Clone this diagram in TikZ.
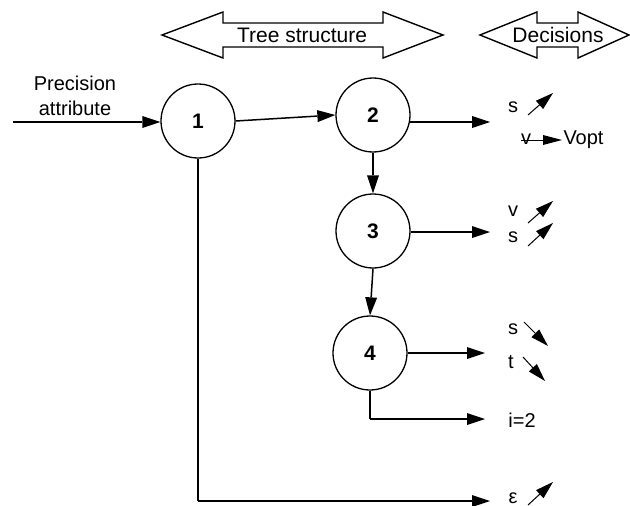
\documentclass[tikz,border=0pt]{standalone}
\usepackage{fontspec}
\setmainfont{Liberation Sans}
\usetikzlibrary{calc}
% arrow with a filled head built from plain path points: #1 from, #2 tip, #3 head length, #4 half width
\newcommand\myarrow[4]{%
  \path (#2) coordinate (tipA) ($(#2)!#3!(#1)$) coordinate (baseA);
  \draw (#1) -- (baseA);
  \fill (tipA) -- ($(baseA)!#4!90:(tipA)$) -- ($(baseA)!#4!-90:(tipA)$) -- cycle;}
\begin{document}
\begin{tikzpicture}[x=1pt,y=1pt, line width=1.5pt,
 circ/.style={circle,draw,line width=1.3pt,minimum size=74pt,inner sep=0pt,font=\fontsize{21}{22}\selectfont\bfseries},
 lbl/.style={inner sep=0pt,font=\fontsize{20}{25}\selectfont},
 ttl/.style={inner sep=0pt,font=\fontsize{21}{25}\selectfont},
 blk/.style={draw,line width=1.4pt,fill=white}]
\useasboundingbox (0,0) rectangle (630,-506);
% block arrows
\draw[blk] (162,-35) -- (223,-12) -- (223,-23) -- (383,-23) -- (383,-12) -- (443,-35)
  -- (383,-58) -- (383,-47) -- (223,-47) -- (223,-58) -- cycle;
\draw[blk] (480,-35) -- (537,-12) -- (537,-23) -- (578,-23) -- (578,-12) -- (629,-35)
  -- (578,-58) -- (578,-47) -- (537,-47) -- (537,-58) -- cycle;
\node[ttl] (tree) at (302,-35) {Tree structure};
\node[ttl] (decs) at (558,-35) {Decisions};
% input
\node[lbl,align=center] (prec) at (75,-96) {Precision\\attribute};
\coordinate (in) at (13,-122);
% circles
\node[circ] (c1) at (198,-121) {1};
\node[circ] (c2) at (373,-115) {2};
\node[circ] (c3) at (373,-231) {3};
\node[circ] (c4) at (370,-353) {4};
\coordinate (c1w) at (c1.west |- in);
\myarrow{in}{c1w}{18pt}{6pt}
\myarrow{c1.east}{c2.west}{18pt}{6pt}
\myarrow{c2.south}{c3.north}{18pt}{6pt}
\myarrow{c3.south}{c4.north}{18pt}{6pt}
% targets
\coordinate (d2) at (490,-122);
\coordinate (d3) at (490,-232);
\coordinate (d4) at (485,-353);
\coordinate (d4b) at (485,-419);
\coordinate (d1) at (490,-501);
\coordinate (c2e) at (c2.-11 |- d2);
\coordinate (c3e) at (c3.east |- d3);
\coordinate (k4) at (c4.south |- d4b);
\coordinate (k1) at (c1.south |- d1);
\myarrow{c2e}{d2}{18pt}{6pt}
\myarrow{c3e}{d3}{18pt}{6pt}
\myarrow{c4.east}{d4}{18pt}{6pt}
\draw (c4.south) -- (k4);
\myarrow{k4}{d4b}{18pt}{6pt}
\draw (c1.south) -- (k1);
\myarrow{k1}{d1}{18pt}{6pt}
% decision labels
\begin{scope}[line width=1pt]
\node[lbl] (s2) at (513,-107) {s};
\coordinate (a1) at (528,-115); \coordinate (b1) at (553,-93);
\myarrow{a1}{b1}{18pt}{5.5pt}
\node[lbl] (v2) at (526,-139) {v};
\coordinate (a2) at (521,-140); \coordinate (b2) at (562,-140);
\myarrow{a2}{b2}{19pt}{5pt}
\node[lbl,anchor=west] (vopt) at (563,-140) {Vopt};
\node[lbl] (v3) at (513,-211) {v};
\coordinate (a3) at (528,-223); \coordinate (b3) at (553,-201);
\myarrow{a3}{b3}{18pt}{5.5pt}
\node[lbl] (s3) at (513,-237) {s};
\coordinate (a4) at (528,-246); \coordinate (b4) at (553,-223);
\myarrow{a4}{b4}{18pt}{5.5pt}
\node[lbl] (s4) at (513,-329) {s};
\coordinate (a5) at (524,-322); \coordinate (b5) at (548,-346);
\myarrow{a5}{b5}{18pt}{5.5pt}
\node[lbl] (t4) at (511,-362) {t};
\coordinate (a6) at (523,-357); \coordinate (b6) at (545,-381);
\myarrow{a6}{b6}{18pt}{5.5pt}
\node[lbl] (i4) at (522,-420) {i=2};
\node[lbl] (e1) at (513,-498) {ε};
\coordinate (a7) at (528,-505); \coordinate (b7) at (553,-482);
\myarrow{a7}{b7}{18pt}{5.5pt}
\end{scope}
\end{tikzpicture}
\end{document}
